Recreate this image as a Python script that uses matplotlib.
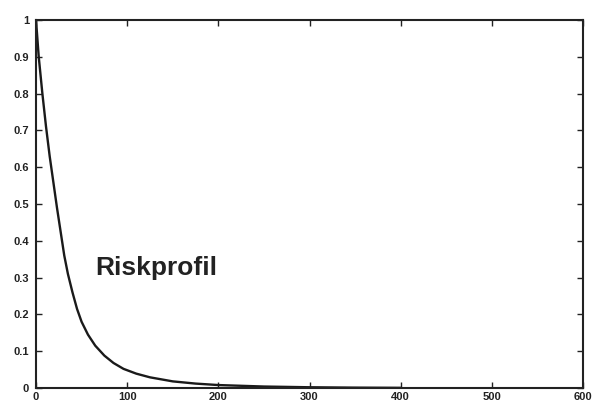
import matplotlib.pyplot as plt

# values
loss = [0, 3, 7, 11, 15, 19, 23, 27, 31, 35, 40, 45, 50, 57, 65, 75, 85, 96,
        110, 125, 150, 175, 200, 250, 300, 350, 400]
prob = [1.0, 0.9, 0.8, 0.71, 0.63, 0.56, 0.49, 0.425, 0.36, 0.31, 0.26, 0.215,
        0.18, 0.145, 0.115, 0.088, 0.068, 0.052, 0.039, 0.029, 0.018, 0.012,
        0.008, 0.004, 0.002, 0.001, 0.0005]

x_ticks = [0, 100, 200, 300, 400, 500, 600]
y_ticks = [0, 0.1, 0.2, 0.3, 0.4, 0.5, 0.6, 0.7, 0.8, 0.9, 1]
y_labels = ['0', '0.1', '0.2', '0.3', '0.4', '0.5', '0.6', '0.7', '0.8', '0.9', '1']

plt.rcParams['font.family'] = ['Liberation Sans', 'DejaVu Sans']

fig = plt.figure(figsize=(5.93, 4.03), dpi=100)
ax = fig.add_axes([36 / 593, 1 - 388 / 403, (583 - 36) / 593, (388 - 20) / 403])

ax.plot(loss, prob, color='#1a1a1a', lw=1.7, solid_joinstyle='round')

ax.set_xlim(0, 600)
ax.set_ylim(0, 1)
ax.set_xticks(x_ticks)
ax.set_yticks(y_ticks)
ax.set_yticklabels(y_labels)
ax.tick_params(direction='in', length=4, width=1, top=True, right=True,
               labelsize=8, colors='#222222')
ax.tick_params(axis='x', pad=3)
ax.tick_params(axis='y', pad=5)
for lab in ax.get_xticklabels() + ax.get_yticklabels():
    lab.set_fontweight('bold')
for s in ax.spines.values():
    s.set_linewidth(1.5)
    s.set_color('#222222')

ax.text(65, 0.325, 'Riskprofil', fontsize=19, fontweight='bold', color='#222222',
        va='center', ha='left')

fig.savefig('out.png', dpi=100)
